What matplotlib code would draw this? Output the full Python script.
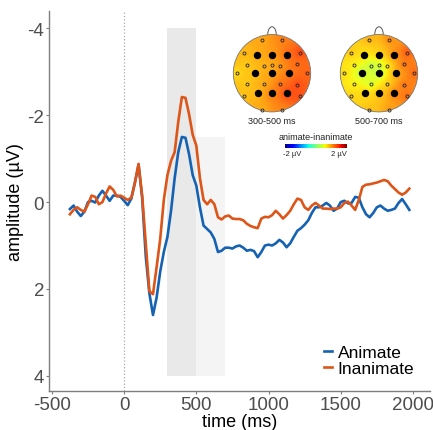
import numpy as np
import matplotlib.pyplot as plt
from matplotlib.patches import Circle, Arc

plt.rcParams['font.family'] = ['Liberation Sans', 'DejaVu Sans']
plt.rcParams['axes.unicode_minus'] = False

# ERP time course (ms) and amplitudes (µV)
time_ms = np.arange(-375, 2000, 25)
animate = [0.16, 0.08, 0.22, 0.32, 0.22, 0.0, -0.03, 0.01, -0.15, -0.26,
           -0.15, -0.03, -0.15, -0.15, -0.12, -0.03, 0.07, -0.08, -0.45, -0.86,
           -0.1, 1.25, 2.1, 2.6, 2.2, 1.6, 1.15, 0.8, 0.2, -0.55,
           -1.15, -1.5, -1.48, -1.1, -0.62, -0.38, 0.12, 0.54, 0.62, 0.7,
           0.85, 1.15, 1.12, 1.05, 1.05, 1.07, 1.02, 1.0, 1.05, 1.12,
           1.1, 1.13, 1.27, 1.15, 1.0, 0.98, 1.0, 0.95, 0.87, 0.93,
           1.04, 0.95, 0.8, 0.66, 0.6, 0.52, 0.42, 0.25, 0.12, 0.12,
           0.08, 0.02, 0.08, 0.2, 0.15, 0.0, -0.03, 0.03, 0.02, -0.12,
           -0.1, 0.12, 0.28, 0.35, 0.25, 0.12, 0.08, 0.15, 0.2, 0.18,
           0.15, 0.02, -0.07, 0.05, 0.18]
inanimate = [0.28, 0.18, 0.12, 0.18, 0.22, 0.05, -0.15, -0.12, 0.05, 0.0,
             -0.2, -0.36, -0.28, -0.13, -0.15, -0.1, -0.05, -0.1, -0.45, -0.88,
             -0.15, 0.95, 2.05, 2.12, 1.5, 0.85, -0.05, -0.62, -0.95, -1.15,
             -1.85, -2.42, -2.4, -2.02, -1.55, -1.3, -0.55, -0.05, 0.05, -0.05,
             0.05, 0.35, 0.4, 0.33, 0.31, 0.38, 0.39, 0.39, 0.42, 0.5,
             0.55, 0.58, 0.6, 0.38, 0.34, 0.35, 0.3, 0.2, 0.28, 0.38,
             0.3, 0.2, 0.05, -0.08, -0.05, 0.12, 0.18, 0.08, 0.02, 0.08,
             0.15, 0.15, 0.16, 0.15, 0.15, 0.12, 0.02, -0.01, 0.08, 0.18,
             -0.05, -0.35, -0.4, -0.41, -0.43, -0.45, -0.48, -0.51, -0.48, -0.38,
             -0.3, -0.22, -0.17, -0.22, -0.31]

# topography: electrode positions (unit head) and difference values (µV)
elec_x = [-0.40, 0.0, 0.40, -0.45, 0.0, 0.45, -0.37, 0.0, 0.40,
          -0.27, 0.27, -0.72, 0.72, -0.65, -0.21, 0.0, 0.21, 0.65,
          -0.90, 0.90, -0.65, -0.21, 0.21, 0.65, -0.72, 0.72, -0.27, 0.27]
elec_y = [0.47, 0.47, 0.47, 0.0, 0.0, 0.0, -0.52, -0.52, -0.52,
          0.87, 0.87, 0.53, 0.53, 0.22, 0.19, 0.21, 0.19, 0.23,
          0.0, 0.0, -0.28, -0.27, -0.27, -0.30, -0.60, -0.60, -0.94, -0.94]
n_big = 9
topo_300_500 = [0.9, 1.0, 1.35, 0.75, 0.9, 1.2, 0.8, 1.2, 1.6,
                0.95, 1.15, 0.85, 1.5, 0.75, 0.85, 0.9, 1.0, 1.25,
                0.65, 1.3, 0.75, 0.9, 1.25, 1.5, 0.8, 1.4, 0.9, 1.1]
topo_500_700 = [0.75, 0.85, 1.25, 0.1, -0.1, 1.0, 0.8, 0.9, 1.3,
                0.95, 1.15, 0.85, 1.45, 0.65, 0.15, 0.3, 0.6, 1.3,
                0.75, 1.35, 0.6, 0.3, 0.75, 1.3, 0.8, 1.3, 0.85, 1.05]

W, H = 433, 431
fig = plt.figure(figsize=(W / 100, H / 100), dpi=100)
ax = fig.add_axes([49 / W, 1 - 392 / H, 381 / W, 380 / H])

ax.fill_between([300, 500], -4, 4, color='#e9e9e9', lw=0, zorder=0)
ax.fill_between([500, 700], -1.5, 4, color='#f4f4f4', lw=0, zorder=0)
ax.axvline(0, color='#aaaaaa', ls=':', lw=0.9, zorder=1)

ax.plot(time_ms, animate, color='#1662b2', lw=1.9, label='Animate', zorder=3)
ax.plot(time_ms, inanimate, color='#dd5518', lw=1.9, label='Inanimate', zorder=3)

ax.set_xlim(-520, 2118)
ax.set_ylim(4.35, -4.4)
ax.set_xticks([-500, 0, 500, 1000, 1500, 2000])
ax.set_yticks([-4, -2, 0, 2, 4])
ax.tick_params(labelsize=13.5, labelcolor='#4d4d4d', color='#7f7f7f',
               length=2.5, width=0.8, pad=1)
for s in ['top', 'right']:
    ax.spines[s].set_visible(False)
for s in ['left', 'bottom']:
    ax.spines[s].set_color('#7f7f7f')
    ax.spines[s].set_linewidth(1.0)
ax.set_xlabel('time (ms)', fontsize=13, labelpad=0)
ax.set_ylabel('amplitude (µV)', fontsize=13, labelpad=2)

ax.legend(loc='lower right', bbox_to_anchor=(0.977, 0.02), frameon=False,
          fontsize=12.5, handlelength=0.5, handletextpad=0.3,
          labelspacing=0.05, borderaxespad=0)

# topographic maps
gx, gy = np.meshgrid(np.linspace(-1, 1, 201), np.linspace(-1, 1, 201))
ex = np.array(elec_x)
ey = np.array(elec_y)


def draw_topo(cx, vals, label):
    tax = fig.add_axes([(cx - 43) / W, 1 - 116 / H, 86 / W, 89 / H])
    d2 = (gx[..., None] - ex) ** 2 + (gy[..., None] - ey) ** 2 + 0.012
    w = 1 / d2
    field = (w * np.array(vals)).sum(-1) / w.sum(-1)
    im = tax.imshow(field, extent=(-1, 1, -1, 1), origin='lower', cmap='jet',
                    vmin=-2, vmax=2, interpolation='bilinear', alpha=0.92)
    head = Circle((0, 0), 1, transform=tax.transData, fc='none')
    im.set_clip_path(head)
    tax.add_patch(Circle((0, 0), 1, fc='none', ec='#777777', lw=0.6))
    tax.add_patch(Arc((0, 1.0), 0.22, 0.4, theta1=0, theta2=180,
                      ec='#555555', lw=0.7))
    tax.plot(ex[:n_big], ey[:n_big], 'o', color='black', ms=4.3)
    tax.plot(ex[n_big:], ey[n_big:], 'o', mfc='none', mec='#222222',
             ms=2.2, mew=0.6)
    tax.set_xlim(-1.05, 1.05)
    tax.set_ylim(-1.08, 1.22)
    tax.axis('off')
    fig.text(cx / W, 1 - 122 / H, label, fontsize=6.5, ha='center',
             va='center', color='#222222')


draw_topo(272, topo_300_500, '300-500 ms')
draw_topo(379, topo_500_700, '500-700 ms')

cax = fig.add_axes([285 / W, 1 - 149 / H, 62 / W, 4 / H])
cax.imshow(np.linspace(-2, 2, 256)[None, :], aspect='auto', cmap='jet',
           extent=(-2, 2, 0, 1))
cax.axis('off')
fig.text(316 / W, 1 - 137 / H, 'animate-inanimate', fontsize=6.5,
         ha='center', va='center', color='#222222')
fig.text(292 / W, 1 - 155 / H, '-2 µV', fontsize=5.5, ha='center',
         va='center', color='#222222')
fig.text(339 / W, 1 - 155 / H, '2 µV', fontsize=5.5, ha='center',
         va='center', color='#222222')

fig.savefig('out.png', dpi=100)
